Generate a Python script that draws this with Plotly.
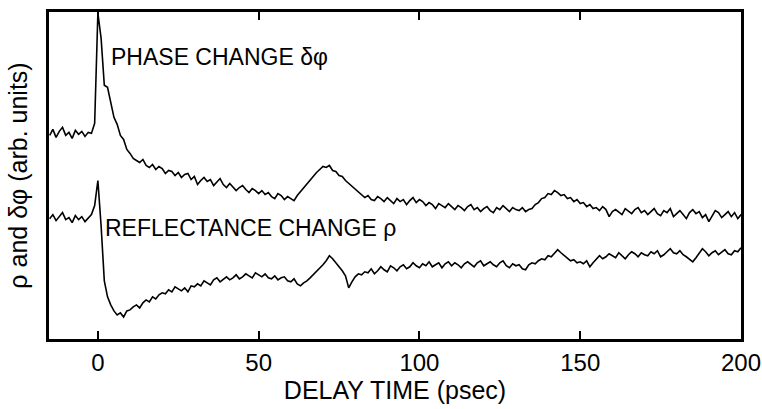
import plotly.graph_objects as go

# Delay time (psec), one sample per psec
delay = list(range(-15, 201))

# Phase change (upper trace), arb. units
phase = [
    203, 209, 201, 207, 211, 203, 206, 200, 208, 204, 207, 202, 206, 205,  # -15..-2
    215, 325, 300, 253, 251, 234, 221, 214, 203, 199, 189, 185,          # -1..10
    180, 178, 176, 179, 173, 171, 174, 169, 172, 170,                    # 11..20
    165, 168, 167, 163, 166, 161, 164, 165, 159, 162,                    # 21..30
    154, 158, 161, 157, 159, 153, 157, 160, 154, 151,                    # 31..40
    155, 152, 148, 151, 153, 149, 146, 150, 148, 145,                    # 41..50
    148, 144, 146, 142, 140, 145, 143, 139, 142, 140,                    # 51..60
    138, 143, 147, 150, 155, 159, 163, 166, 169, 172,                    # 61..70
    171, 173, 168, 167, 163, 162, 158, 155, 152, 150,                    # 71..80
    146, 144, 141, 143, 139, 138, 142, 140, 137, 141,                    # 81..90
    138, 135, 140, 137, 139, 134, 138, 141, 136, 139,                    # 91..100
    137, 133, 136, 134, 130, 135, 133, 131, 135, 132,                    # 101..110
    129, 133, 131, 128, 132, 134, 129, 131, 127, 130,                    # 111..120
    132, 128, 126, 131, 129, 133, 130, 127, 131, 129,                    # 121..130
    128, 131, 127, 129, 130, 134, 136, 140, 141, 145,                    # 131..140
    144, 148, 146, 143, 144, 140, 141, 137, 139, 135,                    # 141..150
    136, 132, 134, 130, 131, 128, 132, 129, 122, 127,                    # 151..160
    129, 126, 124, 130, 127, 125, 129, 131, 126, 128,                    # 161..170
    124, 127, 130, 125, 123, 128, 126, 130, 122, 125,                    # 171..180
    128, 124, 120, 126, 129, 125, 127, 121, 124, 117,                    # 181..190
    123, 128, 126, 121, 124, 127, 122, 126, 120, 124,                    # 191..200
]

# Reflectance change (lower trace), arb. units
reflectance = [
    120, 124, 118, 122, 126, 119, 121, 116, 123, 119, 122, 117, 121, 124,  # -15..-2
    133, 158, 113, 58, 42, 34, 28, 24, 26, 22, 28, 29,                   # -1..10
    32, 34, 31, 36, 39, 37, 42, 40, 44, 46,                              # 11..20
    45, 49, 47, 52, 50, 48, 51, 47, 53, 52,                              # 21..30
    55, 53, 58, 56, 54, 59, 61, 57, 60, 62,                              # 31..40
    59, 61, 64, 60, 62, 65, 63, 61, 66, 64,                              # 41..50
    62, 65, 61, 60, 63, 59, 61, 62, 58, 57,                              # 51..60
    60, 55, 53, 56, 58, 61, 64, 67, 71, 74,                              # 61..70
    78, 83, 80, 76, 73, 68, 63, 51, 57, 62,                              # 71..80
    65, 64, 67, 66, 70, 65, 68, 72, 69, 67,                              # 81..90
    73, 71, 68, 72, 74, 70, 72, 76, 73, 71,                              # 91..100
    75, 73, 77, 72, 74, 76, 71, 75, 77, 73,                              # 101..110
    76, 74, 71, 75, 77, 74, 72, 76, 78, 73,                              # 111..120
    75, 77, 74, 72, 76, 78, 73, 71, 75, 73,                              # 121..130
    74, 70, 69, 74, 76, 75, 78, 80, 79, 83,                              # 131..140
    82, 86, 89, 86, 83, 80, 78, 79, 76, 77,                              # 141..150
    75, 78, 72, 76, 80, 83, 80, 82, 85, 83,                              # 151..160
    81, 86, 83, 80, 84, 87, 85, 82, 86, 84,                              # 161..170
    83, 87, 85, 88, 82, 84, 87, 90, 86, 85,                              # 171..180
    88, 84, 82, 79, 77, 81, 85, 90, 87, 83,                              # 181..190
    86, 88, 84, 87, 89, 85, 84, 88, 87, 91,                              # 191..200
]

x_ticks = [0, 50, 100, 150, 200]

FONT = "Liberation Sans, Arial, Helvetica, sans-serif"

fig = go.Figure()
fig.add_trace(go.Scatter(x=delay, y=phase, mode="lines",
                         line=dict(color="black", width=1.6), showlegend=False))
fig.add_trace(go.Scatter(x=delay, y=reflectance, mode="lines",
                         line=dict(color="black", width=1.6), showlegend=False))

fig.add_annotation(x=3.4, y=281, text="PHASE CHANGE δφ", showarrow=False,
                   xanchor="left", yanchor="middle",
                   font=dict(family=FONT, size=23, color="black"))
fig.add_annotation(x=1.5, y=111, text="REFLECTANCE CHANGE ρ", showarrow=False,
                   xanchor="left", yanchor="middle",
                   font=dict(family=FONT, size=23, color="black"))

fig.update_layout(
    width=762, height=409,
    margin=dict(l=49, r=21, t=12, b=70),
    paper_bgcolor="white", plot_bgcolor="white",
    font=dict(family=FONT, color="black"),
    xaxis=dict(
        range=[-15.2, 200], tickvals=x_ticks, automargin=False,
        ticks="inside", ticklen=8, tickwidth=2, tickcolor="black",
        showline=True, linecolor="black", linewidth=3, mirror="ticks",
        showgrid=False, zeroline=False,
        tickfont=dict(family=FONT, size=24, color="black"),
        title=dict(text="DELAY TIME (psec)", standoff=2,
                   font=dict(family=FONT, size=25, color="black")),
    ),
    yaxis=dict(
        range=[0, 326], showticklabels=False, ticks="", automargin=False,
        showline=True, linecolor="black", linewidth=3, mirror=True,
        showgrid=False, zeroline=False,
        title=dict(text="ρ and δφ (arb. units)", standoff=12,
                   font=dict(family=FONT, size=25, color="black")),
    ),
)

fig.write_html("out.html",
               config={"displayModeBar": False},
               post_script="document.body.style.margin='0';document.body.style.overflow='hidden';")
